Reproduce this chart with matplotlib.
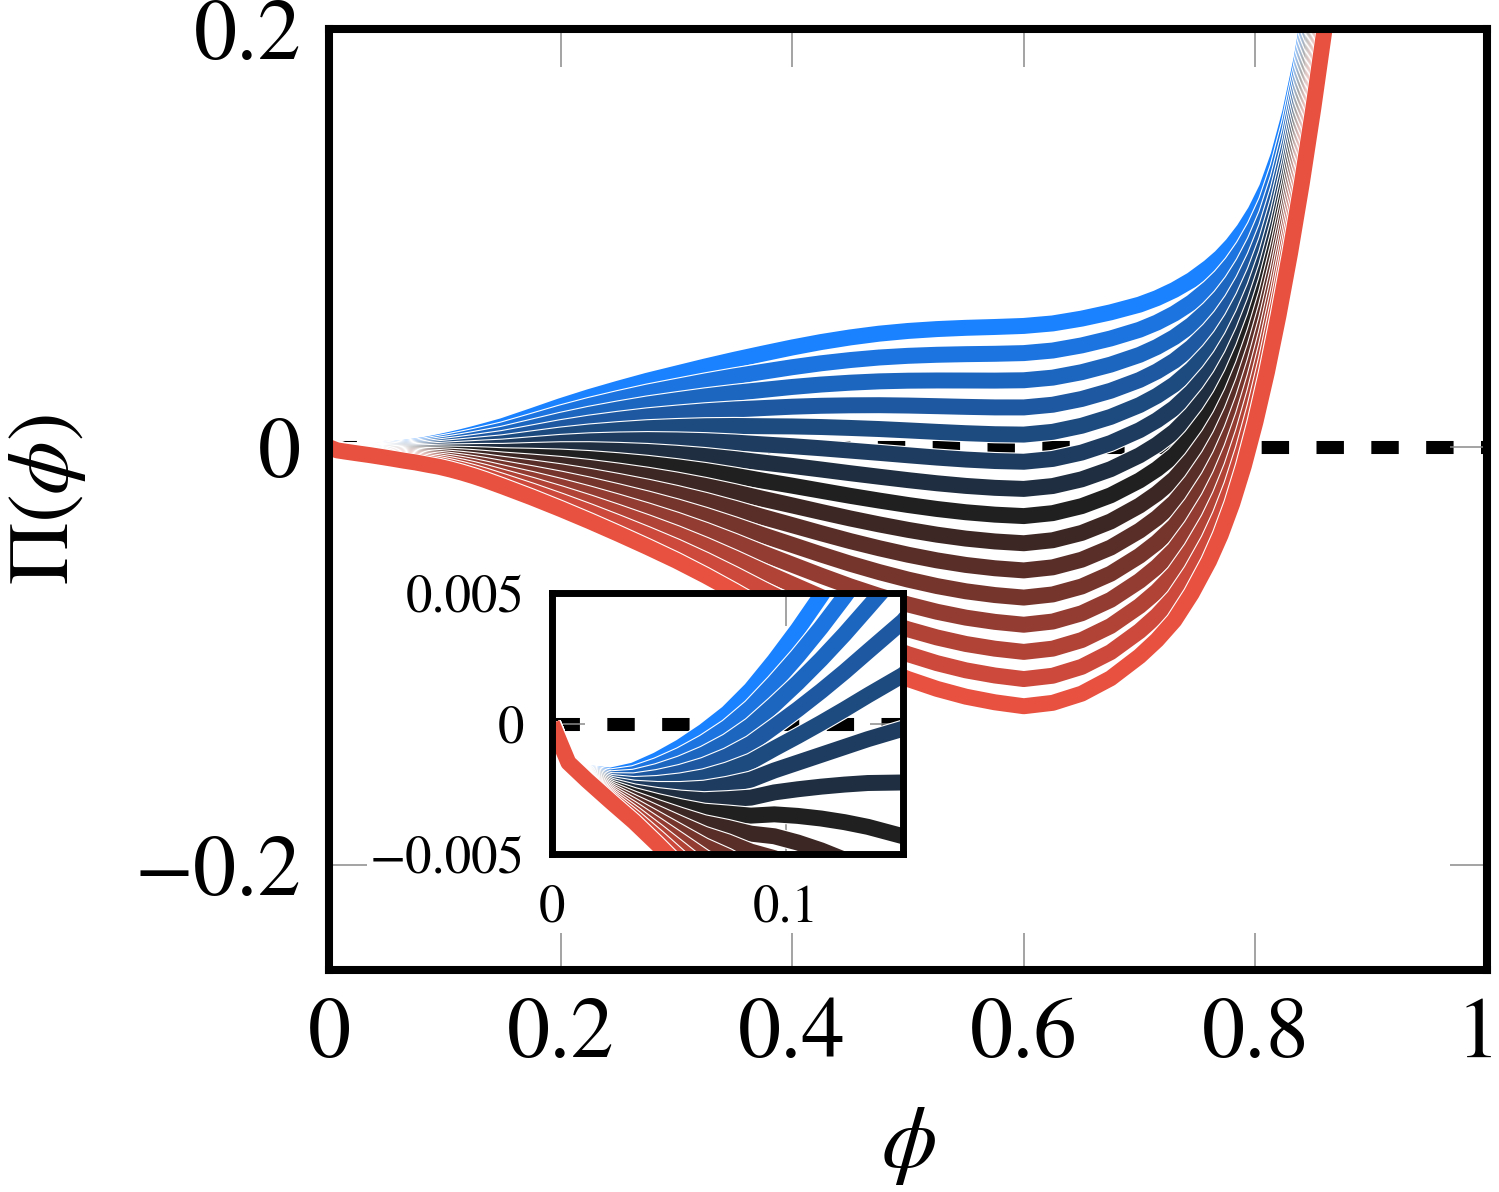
import matplotlib
matplotlib.use("Agg")
import matplotlib.pyplot as plt
import matplotlib.patheffects as pe
import matplotlib.transforms as mtransforms
import numpy as np
from matplotlib.colors import LinearSegmentedColormap

# volume fraction grid shared by all curves
phi = [0, 0.007, 0.015, 0.025, 0.035, 0.045, 0.055, 0.065, 0.075, 0.085,
       0.095, 0.105, 0.115, 0.125, 0.135, 0.15, 0.175, 0.2, 0.225, 0.25,
       0.275, 0.3, 0.325, 0.35, 0.375, 0.4, 0.425, 0.45, 0.475, 0.5,
       0.525, 0.55, 0.575, 0.6, 0.625, 0.65, 0.675, 0.7, 0.715, 0.73,
       0.745, 0.76, 0.77, 0.78, 0.79, 0.8, 0.81, 0.82, 0.83, 0.84,
       0.85, 0.86, 0.87, 0.88]

# osmotic pressure curves, top (blue) to bottom (red)
pi_01 = [0, -0.0015, -0.0019, -0.002, -0.0018, -0.0014, -0.0009, -0.0003, 0.0004, 0.0013,
         0.0024, 0.0036, 0.0049, 0.0063, 0.0078, 0.0101, 0.0148, 0.0196, 0.024, 0.028,
         0.0318, 0.0352, 0.0386, 0.0418, 0.0448, 0.0477, 0.0503, 0.0525, 0.0543, 0.0556,
         0.0565, 0.0571, 0.0575, 0.058, 0.0592, 0.0615, 0.0645, 0.0682, 0.0713, 0.0752,
         0.08, 0.0861, 0.0909, 0.0968, 0.104, 0.1128, 0.124, 0.1395, 0.16, 0.186,
         0.219, 0.26, 0.31, 0.37]
pi_02 = [0, -0.0015, -0.00192, -0.00207, -0.00194, -0.00163, -0.00123, -0.00074, -0.00015, 0.00061,
         0.00156, 0.00258, 0.00368, 0.00486, 0.00612, 0.00804, 0.01203, 0.01609, 0.01976, 0.02304,
         0.02612, 0.02881, 0.03146, 0.03389, 0.03611, 0.03826, 0.04014, 0.04168, 0.0429, 0.04371,
         0.04421, 0.0445, 0.04468, 0.04501, 0.04624, 0.04869, 0.052, 0.05619, 0.05962, 0.06391,
         0.06929, 0.07606, 0.08141, 0.08796, 0.09593, 0.1056, 0.11771, 0.13404, 0.15521, 0.18171,
         0.21493, 0.25579, 0.30521, 0.36414]
pi_03 = [0, -0.0015, -0.00194, -0.00214, -0.00208, -0.00186, -0.00156, -0.00118, -0.0007, -0.00008,
         0.00072, 0.00156, 0.00246, 0.00342, 0.00444, 0.00598, 0.00926, 0.01258, 0.01552, 0.01808,
         0.02044, 0.02242, 0.02432, 0.02598, 0.02742, 0.02882, 0.02998, 0.03086, 0.0315, 0.03182,
         0.03192, 0.0319, 0.03186, 0.03202, 0.03328, 0.03588, 0.0395, 0.04418, 0.04794, 0.05262,
         0.05858, 0.06602, 0.07192, 0.07912, 0.08786, 0.0984, 0.11142, 0.12858, 0.15042, 0.17742,
         0.21086, 0.25158, 0.30042, 0.35828]
pi_04 = [0, -0.0015, -0.00196, -0.00221, -0.00222, -0.00209, -0.00189, -0.00162, -0.00125, -0.00077,
         -0.00012, 0.00054, 0.00124, 0.00198, 0.00276, 0.00392, 0.00649, 0.00907, 0.01128, 0.01312,
         0.01476, 0.01603, 0.01718, 0.01807, 0.01873, 0.01938, 0.01982, 0.02004, 0.0201, 0.01993,
         0.01963, 0.0193, 0.01904, 0.01903, 0.02032, 0.02307, 0.027, 0.03217, 0.03626, 0.04133,
         0.04787, 0.05598, 0.06243, 0.07028, 0.07979, 0.0912, 0.10513, 0.12312, 0.14563, 0.17313,
         0.20679, 0.24737, 0.29563, 0.35242]
pi_05 = [0, -0.0015, -0.00198, -0.00228, -0.00236, -0.00232, -0.00222, -0.00206, -0.0018, -0.00146,
         -0.00096, -0.00048, 0.00002, 0.00054, 0.00108, 0.00186, 0.00372, 0.00556, 0.00704, 0.00816,
         0.00908, 0.00964, 0.01004, 0.01016, 0.01004, 0.00994, 0.00966, 0.00922, 0.0087, 0.00804,
         0.00734, 0.0067, 0.00622, 0.00604, 0.00736, 0.01026, 0.0145, 0.02016, 0.02458, 0.03004,
         0.03716, 0.04594, 0.05294, 0.06144, 0.07172, 0.084, 0.09884, 0.11766, 0.14084, 0.16884,
         0.20272, 0.24316, 0.29084, 0.34656]
pi_06 = [0, -0.0015, -0.002, -0.00235, -0.0025, -0.00255, -0.00255, -0.0025, -0.00235, -0.00215,
         -0.0018, -0.0015, -0.0012, -0.0009, -0.0006, -0.0002, 0.00095, 0.00205, 0.0028, 0.0032,
         0.0034, 0.00325, 0.0029, 0.00225, 0.00135, 0.0005, -0.0005, -0.0016, -0.0027, -0.00385,
         -0.00495, -0.0059, -0.0066, -0.00695, -0.0056, -0.00255, 0.002, 0.00815, 0.0129, 0.01875,
         0.02645, 0.0359, 0.04345, 0.0526, 0.06365, 0.0768, 0.09255, 0.1122, 0.13605, 0.16455,
         0.19865, 0.23895, 0.28605, 0.3407]
pi_07 = [0, -0.0015, -0.00202, -0.00242, -0.00264, -0.00278, -0.00288, -0.00294, -0.0029, -0.00284,
         -0.00264, -0.00252, -0.00242, -0.00234, -0.00228, -0.00226, -0.00182, -0.00146, -0.00144, -0.00176,
         -0.00228, -0.00314, -0.00424, -0.00566, -0.00734, -0.00894, -0.01066, -0.01242, -0.0141, -0.01574,
         -0.01724, -0.0185, -0.01942, -0.01994, -0.01856, -0.01536, -0.0105, -0.00386, 0.00122, 0.00746,
         0.01574, 0.02586, 0.03396, 0.04376, 0.05558, 0.0696, 0.08626, 0.10674, 0.13126, 0.16026,
         0.19458, 0.23474, 0.28126, 0.33484]
pi_08 = [0, -0.0015, -0.00204, -0.00249, -0.00278, -0.00301, -0.00321, -0.00338, -0.00345, -0.00353,
         -0.00348, -0.00354, -0.00364, -0.00378, -0.00396, -0.00432, -0.00459, -0.00497, -0.00568, -0.00672,
         -0.00796, -0.00953, -0.01138, -0.01357, -0.01603, -0.01838, -0.02082, -0.02324, -0.0255, -0.02763,
         -0.02953, -0.0311, -0.03224, -0.03293, -0.03152, -0.02817, -0.023, -0.01587, -0.01046, -0.00383,
         0.00503, 0.01582, 0.02447, 0.03492, 0.04751, 0.0624, 0.07997, 0.10128, 0.12647, 0.15597,
         0.19051, 0.23053, 0.27647, 0.32898]
pi_09 = [0, -0.0015, -0.00206, -0.00256, -0.00292, -0.00324, -0.00354, -0.00382, -0.004, -0.00422,
         -0.00432, -0.00456, -0.00486, -0.00522, -0.00564, -0.00638, -0.00736, -0.00848, -0.00992, -0.01168,
         -0.01364, -0.01592, -0.01852, -0.02148, -0.02472, -0.02782, -0.03098, -0.03406, -0.0369, -0.03952,
         -0.04182, -0.0437, -0.04506, -0.04592, -0.04448, -0.04098, -0.0355, -0.02788, -0.02214, -0.01512,
         -0.00568, 0.00578, 0.01498, 0.02608, 0.03944, 0.0552, 0.07368, 0.09582, 0.12168, 0.15168,
         0.18644, 0.22632, 0.27168, 0.32312]
pi_10 = [0, -0.0015, -0.00208, -0.00263, -0.00306, -0.00347, -0.00387, -0.00426, -0.00455, -0.00491,
         -0.00516, -0.00558, -0.00608, -0.00666, -0.00732, -0.00844, -0.01013, -0.01199, -0.01416, -0.01664,
         -0.01932, -0.02231, -0.02566, -0.02939, -0.03341, -0.03726, -0.04114, -0.04488, -0.0483, -0.05141,
         -0.05411, -0.0563, -0.05788, -0.05891, -0.05744, -0.05379, -0.048, -0.03989, -0.03382, -0.02641,
         -0.01639, -0.00426, 0.00549, 0.01724, 0.03137, 0.048, 0.06739, 0.09036, 0.11689, 0.14739,
         0.18237, 0.22211, 0.26689, 0.31726]
pi_11 = [0, -0.0015, -0.0021, -0.0027, -0.0032, -0.0037, -0.0042, -0.0047, -0.0051, -0.0056,
         -0.006, -0.0066, -0.0073, -0.0081, -0.009, -0.0105, -0.0129, -0.0155, -0.0184, -0.0216,
         -0.025, -0.0287, -0.0328, -0.0373, -0.0421, -0.0467, -0.0513, -0.0557, -0.0597, -0.0633,
         -0.0664, -0.0689, -0.0707, -0.0719, -0.0704, -0.0666, -0.0605, -0.0519, -0.0455, -0.0377,
         -0.0271, -0.0143, -0.004, 0.0084, 0.0233, 0.0408, 0.0611, 0.0849, 0.1121, 0.1431,
         0.1783, 0.2179, 0.2621, 0.3114]
pi_12 = [0, -0.0015, -0.00212, -0.00277, -0.00334, -0.00393, -0.00453, -0.00514, -0.00565, -0.00629,
         -0.00684, -0.00762, -0.00852, -0.00954, -0.01068, -0.01256, -0.01567, -0.01901, -0.02264, -0.02656,
         -0.03068, -0.03509, -0.03994, -0.04521, -0.05079, -0.05614, -0.06146, -0.06652, -0.0711, -0.07519,
         -0.07869, -0.0815, -0.08352, -0.08489, -0.08336, -0.07941, -0.073, -0.06391, -0.05718, -0.04899,
         -0.03781, -0.02434, -0.01349, -0.00044, 0.01523, 0.0336, 0.05481, 0.07944, 0.10731, 0.13881,
         0.17423, 0.21369, 0.25731, 0.30554]
pi_13 = [0, -0.0015, -0.00214, -0.00284, -0.00348, -0.00416, -0.00486, -0.00558, -0.0062, -0.00698,
         -0.00768, -0.00864, -0.00974, -0.01098, -0.01236, -0.01462, -0.01844, -0.02252, -0.02688, -0.03152,
         -0.03636, -0.04148, -0.04708, -0.05312, -0.05948, -0.06558, -0.07162, -0.07734, -0.0825, -0.08708,
         -0.09098, -0.0941, -0.09634, -0.09788, -0.09632, -0.09222, -0.0855, -0.07592, -0.06886, -0.06028,
         -0.04852, -0.03438, -0.02298, -0.00928, 0.00716, 0.0264, 0.04852, 0.07398, 0.10252, 0.13452,
         0.17016, 0.20948, 0.25252, 0.29968]
pi_14 = [0, -0.0015, -0.00216, -0.00291, -0.00362, -0.00439, -0.00519, -0.00602, -0.00675, -0.00767,
         -0.00852, -0.00966, -0.01096, -0.01242, -0.01404, -0.01668, -0.02121, -0.02603, -0.03112, -0.03648,
         -0.04204, -0.04787, -0.05422, -0.06103, -0.06817, -0.07502, -0.08178, -0.08816, -0.0939, -0.09897,
         -0.10327, -0.1067, -0.10916, -0.11087, -0.10928, -0.10503, -0.098, -0.08793, -0.08054, -0.07157,
         -0.05923, -0.04442, -0.03247, -0.01812, -0.00091, 0.0192, 0.04223, 0.06852, 0.09773, 0.13023,
         0.16609, 0.20527, 0.24773, 0.29382]
pi_15 = [0, -0.0015, -0.00218, -0.00298, -0.00376, -0.00462, -0.00552, -0.00646, -0.0073, -0.00836,
         -0.00936, -0.01068, -0.01218, -0.01386, -0.01572, -0.01874, -0.02398, -0.02954, -0.03536, -0.04144,
         -0.04772, -0.05426, -0.06136, -0.06894, -0.07686, -0.08446, -0.09194, -0.09898, -0.1053, -0.11086,
         -0.11556, -0.1193, -0.12198, -0.12386, -0.12224, -0.11784, -0.1105, -0.09994, -0.09222, -0.08286,
         -0.06994, -0.05446, -0.04196, -0.02696, -0.00898, 0.012, 0.03594, 0.06306, 0.09294, 0.12594,
         0.16202, 0.20106, 0.24394, 0.28796]

curves = [pi_01, pi_02, pi_03, pi_04, pi_05, pi_06, pi_07, pi_08,
          pi_09, pi_10, pi_11, pi_12, pi_13, pi_14, pi_15]

main_xticks = [0, 0.2, 0.4, 0.6, 0.8, 1]
main_xlabels = ["0", "0.2", "0.4", "0.6", "0.8", "1"]
main_yticks = [-0.2, 0, 0.2]
main_ylabels = ["\u22120.2", "0", "0.2"]
inset_xticks = [0, 0.1]
inset_xlabels = ["0", "0.1"]
inset_yticks = [-0.005, 0, 0.005]
inset_ylabels = ["\u22120.005", "0", "0.005"]

plt.rcParams["font.family"] = ["STIXGeneral", "DejaVu Serif"]
plt.rcParams["mathtext.fontset"] = "stix"

cmap = LinearSegmentedColormap.from_list("bkr", ["#1a82ff", "#202020", "#e8503f"])
colors = cmap(np.linspace(0, 1, len(curves)))

LW = 11.5
halo = [pe.Stroke(linewidth=LW + 1.6, foreground="white"), pe.Normal()]


def draw(ax):
    ax.axhline(0, color="black", lw=9.4, dashes=(2.1, 2.1), zorder=1)
    for y, c in zip(curves, colors):
        ax.plot(phi, y, color=c, lw=LW, solid_joinstyle="round", solid_capstyle="butt",
                path_effects=halo, zorder=2)


def style(ax, spine_lw, tick_len, fs):
    for s in ax.spines.values():
        s.set_linewidth(spine_lw)
        s.set_zorder(5)
    ax.tick_params(direction="in", length=tick_len, width=1.1, color="#8a8a8a",
                   top=True, right=True, labelsize=fs)


fig = plt.figure(figsize=(14.99, 11.92), dpi=100)

ax = fig.add_axes([329 / 1499, 1 - 970 / 1192, (1487 - 329) / 1499, (970 - 29) / 1192])
draw(ax)
ax.set_xlim(0, 1)
ax.set_ylim(-0.25, 0.2)
ax.set_xticks(main_xticks)
ax.set_xticklabels(main_xlabels)
ax.set_yticks(main_yticks)
ax.set_yticklabels(main_ylabels)
style(ax, 5.8, 27, 62)
ax.tick_params(axis="x", pad=20)
ax.tick_params(axis="y", pad=20)
last = ax.get_xticklabels()[-1]
last.set_transform(last.get_transform() + mtransforms.ScaledTranslation(-9 / 100, 0, fig.dpi_scale_trans))
ax.set_xlabel(r"$\phi$", fontsize=64)
ax.set_ylabel(r"$\Pi(\phi)$", fontsize=62)
ax.xaxis.set_label_coords(0.5, -0.143)
ax.yaxis.set_label_coords(-0.208, 0.5)

axi = fig.add_axes([552 / 1499, 1 - 854 / 1192, 351 / 1499, 261 / 1192])
axi.set_facecolor("white")
draw(axi)
axi.set_xlim(0, 0.15)
axi.set_ylim(-0.005, 0.005)
axi.set_xticks(inset_xticks)
axi.set_xticklabels(inset_xlabels)
axi.set_yticks(inset_yticks)
axi.set_yticklabels(inset_ylabels)
style(axi, 5.0, 24, 38)
axi.tick_params(axis="x", pad=22)
axi.tick_params(axis="y", pad=20)

fig.savefig("out.png", dpi=100, facecolor="white")
